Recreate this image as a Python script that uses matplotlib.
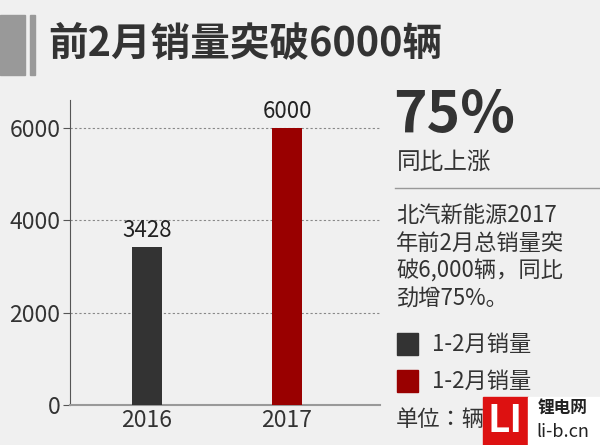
import matplotlib
matplotlib.use("Agg")
import matplotlib.pyplot as plt
from matplotlib.patches import Rectangle
from matplotlib import font_manager as fm

cands = ["Noto Sans CJK SC", "Noto Sans CJK JP", "Noto Sans CJK TC", "Noto Sans CJK KR"]
avail = {f.name for f in fm.fontManager.ttflist}
fam = [c for c in cands if c in avail] + ["DejaVu Sans"]
plt.rcParams["font.family"] = fam

years = ["2016", "2017"]
sales = [3428, 6000]
labels = ["3428", "6000"]
colors = ["#333333", "#990000"]
yticks = [0, 2000, 4000, 6000]

fig = plt.figure(figsize=(6, 4.45), dpi=100)
fig.patch.set_facecolor("#f0f0f0")

ax = fig.add_axes([70/600, 40/445, 310/600, 305/445])
ax.set_facecolor("#f0f0f0")
x = list(range(len(years)))
ax.bar(x, sales, width=0.214, color=colors, zorder=3)
for xi, v, l in zip(x, sales, labels):
    ax.text(xi, v + 100, l, ha="center", va="bottom", fontsize=16, color="#222222")
ax.set_xlim(-0.55, 1.664)
ax.set_ylim(0, 6600)
ax.set_yticks(yticks)
ax.set_yticklabels([str(t) for t in yticks], fontsize=16.5, color="#333333")
ax.set_xticks(x)
ax.set_xticklabels(years, fontsize=16.5, color="#333333")
ax.tick_params(axis="x", length=0, pad=3)
ax.tick_params(axis="y", length=5, color="#555555", pad=2)
for t in yticks[1:]:
    ax.axhline(t, color="#888888", ls=(0, (2, 2)), lw=0.8, zorder=1)
for s in ["top", "right"]:
    ax.spines[s].set_visible(False)
ax.spines["bottom"].set_color("#999999")
ax.spines["bottom"].set_linewidth(1.5)
ax.spines["left"].set_color("#555555")

def px(xp, yp):
    return xp/600, 1 - yp/445

# header
fig.patches.append(Rectangle(px(0, 75), 25/600, 60/445, transform=fig.transFigure, color="#999999"))
fig.patches.append(Rectangle(px(30, 75), 5/600, 60/445, transform=fig.transFigure, color="#999999"))
fig.text(*px(48, 45), "前2月销量突破6000辆", fontsize=28.5, fontweight="bold", color="#333333", va="center")

fig.text(*px(393, 116), "75%", fontsize=41, fontweight="bold", color="#333333", va="center")
fig.text(*px(397, 162), "同比上涨", fontsize=17, color="#333333", va="center")
fig.add_artist(plt.Line2D([395/600, 1], [1-188/445]*2, color="#999999", lw=1))
para = ["北汽新能源2017", "年前2月总销量突", "破6,000辆，同比", "劲增75%。"]
for i, line in enumerate(para):
    fig.text(*px(396, 215 + i*28), line, fontsize=16, color="#333333", va="center")
for i, c in enumerate(colors):
    y = 333 + i*37
    fig.patches.append(Rectangle(px(397, y+22), 21/600, 22/445, transform=fig.transFigure, color=c))
    fig.text(*px(432, y+11), "1-2月销量", fontsize=16, color="#333333", va="center")
fig.text(*px(396, 420), "单位：辆", fontsize=16, color="#333333", va="center")

# watermark
fig.patches.append(Rectangle(px(483, 445), 45/600, 48/445, transform=fig.transFigure, color="#dd1111", zorder=5))
fig.text(*px(505, 421), "LI", fontsize=28, fontweight="bold", color="white", ha="center", va="center", zorder=6)
fig.patches.append(Rectangle(px(528, 445), 72/600, 48/445, transform=fig.transFigure, color="white", zorder=5))
fig.text(*px(563, 409), "锂电网", fontsize=12, fontweight="bold", color="#222222", ha="center", va="center", zorder=6)
fig.text(*px(563, 432), "li-b.cn", fontsize=13, color="#222222", ha="center", va="center", zorder=6)

fig.savefig("out.png", dpi=100, facecolor=fig.get_facecolor())
